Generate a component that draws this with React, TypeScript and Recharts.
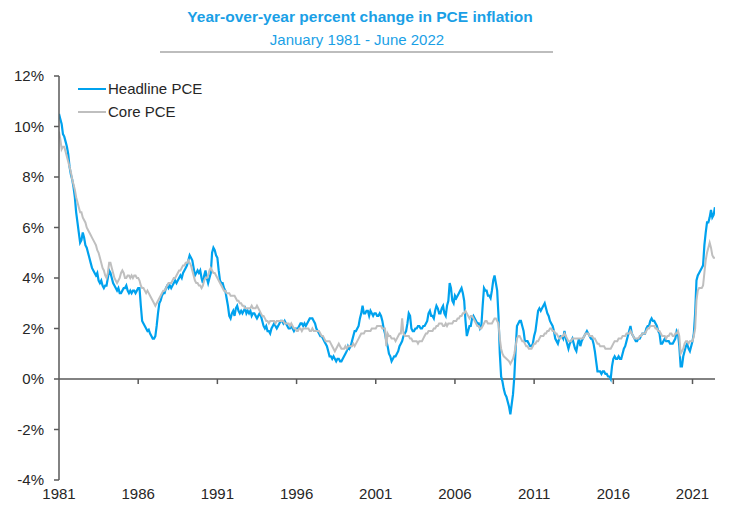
import { LineChart, Line, XAxis, YAxis, ReferenceLine, Legend } from "recharts"

// ── Data: monthly year-over-year % change, Jan 1981 – Jun 2022 ───────────────
const START_YEAR = 1981

const headline = [
  10.5, 10.3, 10.1, 9.7, 9.6, 9.4, 9.2, 8.9, 8.4, 8.1, 7.9, 7.6, // 1981
  7.2, 6.6, 6.2, 5.8, 5.4, 5.5, 5.8, 5.6, 5.3, 5.2, 5.0, 4.8, // 1982
  4.6, 4.4, 4.3, 4.2, 4.1, 4.2, 3.9, 3.8, 3.9, 3.7, 3.6, 3.7, // 1983
  3.7, 4.0, 4.3, 4.2, 4.0, 3.8, 3.7, 3.6, 3.5, 3.6, 3.4, 3.4, // 1984
  3.5, 3.6, 3.6, 3.7, 3.5, 3.4, 3.5, 3.4, 3.5, 3.5, 3.4, 3.5, // 1985
  3.6, 3.6, 2.9, 2.3, 2.2, 2.1, 2.0, 1.9, 1.95, 1.8, 1.7, 1.6, // 1986
  1.6, 1.7, 2.1, 2.6, 3.0, 3.1, 3.3, 3.4, 3.4, 3.6, 3.7, 3.6, // 1987
  3.7, 3.6, 3.7, 3.8, 3.9, 3.8, 3.9, 4.0, 4.1, 4.0, 4.2, 4.3, // 1988
  4.4, 4.5, 4.7, 4.9, 4.8, 4.7, 4.4, 4.1, 4.2, 4.3, 4.2, 4.3, // 1989
  4.0, 3.8, 4.1, 4.3, 4.0, 3.8, 4.0, 4.2, 5.0, 5.2, 5.1, 4.9, // 1990
  4.8, 4.3, 3.9, 3.8, 3.8, 3.6, 3.5, 3.2, 2.9, 2.5, 2.4, 2.6, // 1991
  2.7, 2.5, 2.8, 2.9, 2.7, 2.6, 2.7, 2.6, 2.7, 2.8, 2.6, 2.7, // 1992
  2.6, 2.7, 2.5, 2.6, 2.6, 2.5, 2.4, 2.5, 2.6, 2.5, 2.3, 2.1, // 1993
  2.0, 2.1, 1.9, 1.9, 1.8, 2.0, 2.1, 2.2, 2.1, 2.0, 2.1, 2.2, // 1994
  2.3, 2.3, 2.2, 2.3, 2.2, 2.1, 2.0, 2.0, 2.1, 2.0, 1.9, 2.0, // 1995
  2.0, 2.0, 2.1, 2.2, 2.2, 2.1, 2.2, 2.1, 2.2, 2.3, 2.4, 2.4, // 1996
  2.4, 2.3, 2.2, 2.0, 1.9, 1.8, 1.7, 1.7, 1.6, 1.5, 1.4, 1.3, // 1997
  1.1, 0.9, 0.9, 0.8, 0.9, 0.8, 0.7, 0.8, 0.8, 0.7, 0.7, 0.8, // 1998
  0.9, 1.0, 1.1, 1.3, 1.2, 1.3, 1.5, 1.7, 1.9, 1.9, 2.0, 2.1, // 1999
  2.4, 2.6, 2.9, 2.6, 2.6, 2.7, 2.7, 2.5, 2.7, 2.6, 2.5, 2.6, // 2000
  2.6, 2.5, 2.5, 2.6, 2.5, 2.3, 2.0, 1.8, 1.5, 1.3, 1.0, 0.9, // 2001
  0.7, 0.8, 0.9, 0.9, 1.0, 1.1, 1.3, 1.4, 1.5, 1.7, 1.8, 1.9, // 2002
  2.2, 2.6, 2.5, 2.0, 1.9, 1.9, 2.0, 2.0, 2.1, 2.1, 2.0, 2.0, // 2003
  2.1, 2.1, 2.2, 2.3, 2.6, 2.7, 2.5, 2.5, 2.4, 2.7, 2.9, 2.8, // 2004
  2.6, 2.6, 2.8, 2.9, 2.6, 2.5, 2.9, 3.1, 3.8, 3.6, 3.1, 3.0, // 2005
  3.3, 3.2, 3.3, 3.4, 3.5, 3.6, 3.4, 3.1, 2.3, 1.7, 1.9, 2.1, // 2006
  2.1, 2.4, 2.5, 2.4, 2.3, 2.2, 2.2, 2.0, 2.1, 2.9, 3.6, 3.5, // 2007
  3.5, 3.3, 3.3, 3.2, 3.5, 3.9, 4.1, 3.8, 3.5, 2.5, 1.0, 0.1, // 2008
  -0.1, -0.4, -0.6, -0.7, -0.9, -1.1, -1.4, -1.0, -0.6, 0.1, 1.2, 2.1, // 2009
  2.2, 2.3, 2.3, 2.1, 1.9, 1.5, 1.5, 1.5, 1.4, 1.3, 1.3, 1.4, // 2010
  1.7, 1.9, 2.3, 2.7, 2.8, 2.7, 2.8, 2.9, 3.0, 2.8, 2.6, 2.5, // 2011
  2.3, 2.2, 2.1, 1.9, 1.6, 1.5, 1.4, 1.6, 1.7, 1.7, 1.6, 1.9, // 2012
  1.6, 1.4, 1.2, 1.4, 1.5, 1.6, 1.4, 1.2, 1.1, 1.4, 1.6, 1.3, // 2013
  1.5, 1.6, 1.7, 1.8, 1.9, 1.8, 1.7, 1.6, 1.6, 1.4, 1.1, 0.7, // 2014
  0.3, 0.3, 0.3, 0.2, 0.3, 0.3, 0.2, 0.2, 0.1, 0.1, 0.0, 0.5, // 2015
  0.8, 0.9, 0.8, 0.8, 0.9, 0.8, 0.8, 1.0, 1.2, 1.3, 1.5, 1.7, // 2016
  1.9, 2.1, 1.8, 1.7, 1.6, 1.5, 1.5, 1.6, 1.6, 1.7, 1.8, 1.8, // 2017
  1.8, 2.0, 2.1, 2.1, 2.3, 2.4, 2.3, 2.3, 2.2, 2.1, 1.9, 1.8, // 2018
  1.4, 1.4, 1.5, 1.6, 1.5, 1.5, 1.5, 1.4, 1.4, 1.4, 1.5, 1.6, // 2019
  1.9, 1.8, 1.3, 0.5, 0.5, 0.9, 1.1, 1.3, 1.4, 1.2, 1.1, 1.3, // 2020
  1.5, 1.8, 2.6, 3.9, 4.1, 4.2, 4.3, 4.4, 4.5, 5.3, 5.8, 6.2, // 2021
  6.2, 6.4, 6.7, 6.4, 6.5, 6.8, // 2022
]

const core = [
  9.8, 9.5, 9.1, 9.2, 9.2, 9.0, 8.8, 8.6, 8.4, 8.2, 7.9, 7.7, // 1981
  7.5, 7.2, 7.0, 6.8, 6.6, 6.6, 6.4, 6.3, 6.2, 6.0, 5.9, 5.8, // 1982
  5.7, 5.6, 5.5, 5.4, 5.3, 5.1, 5.0, 4.8, 4.6, 4.4, 4.3, 4.1, // 1983
  4.0, 4.2, 4.6, 4.6, 4.4, 4.2, 4.0, 3.9, 3.8, 3.9, 4.0, 4.2, // 1984
  4.3, 4.2, 4.0, 4.0, 4.1, 4.1, 4.0, 4.1, 4.0, 4.1, 4.1, 4.0, // 1985
  4.0, 3.9, 3.7, 3.6, 3.6, 3.5, 3.4, 3.5, 3.4, 3.3, 3.2, 3.1, // 1986
  3.0, 2.9, 3.0, 3.1, 3.2, 3.3, 3.4, 3.5, 3.5, 3.6, 3.7, 3.8, // 1987
  3.8, 3.8, 3.9, 4.0, 4.0, 4.1, 4.2, 4.3, 4.3, 4.4, 4.5, 4.5, // 1988
  4.6, 4.6, 4.7, 4.6, 4.5, 4.3, 4.1, 3.9, 3.8, 3.8, 3.7, 3.7, // 1989
  3.6, 3.7, 3.9, 4.0, 4.0, 4.1, 4.3, 4.4, 4.3, 4.2, 4.2, 4.1, // 1990
  4.0, 3.9, 3.8, 3.7, 3.6, 3.5, 3.5, 3.4, 3.4, 3.4, 3.3, 3.3, // 1991
  3.3, 3.3, 3.2, 3.1, 3.1, 3.0, 3.0, 2.9, 2.9, 2.8, 2.8, 2.8, // 1992
  2.8, 2.8, 2.9, 2.8, 2.8, 2.8, 2.9, 2.8, 2.7, 2.6, 2.5, 2.5, // 1993
  2.4, 2.3, 2.3, 2.2, 2.3, 2.3, 2.3, 2.3, 2.2, 2.3, 2.3, 2.3, // 1994
  2.3, 2.3, 2.3, 2.2, 2.2, 2.2, 2.2, 2.1, 2.2, 2.1, 2.0, 2.0, // 1995
  1.9, 1.9, 2.0, 2.0, 1.9, 2.0, 2.0, 2.0, 2.0, 2.0, 1.9, 1.9, // 1996
  2.0, 1.9, 1.9, 1.9, 1.9, 1.9, 1.8, 1.7, 1.7, 1.6, 1.5, 1.5, // 1997
  1.5, 1.5, 1.4, 1.3, 1.2, 1.1, 1.2, 1.3, 1.4, 1.3, 1.2, 1.2, // 1998
  1.2, 1.3, 1.2, 1.3, 1.3, 1.3, 1.3, 1.4, 1.3, 1.4, 1.5, 1.6, // 1999
  1.7, 1.8, 1.8, 1.8, 1.9, 1.9, 1.9, 1.9, 1.9, 2.0, 2.0, 2.0, // 2000
  2.0, 2.1, 2.1, 2.1, 2.1, 2.0, 2.0, 2.0, 1.3, 1.8, 1.7, 1.7, // 2001
  1.6, 1.6, 1.6, 1.5, 1.6, 1.7, 1.8, 1.8, 2.4, 1.8, 1.7, 1.7, // 2002
  1.7, 1.7, 1.6, 1.6, 1.5, 1.5, 1.5, 1.5, 1.4, 1.5, 1.5, 1.5, // 2003
  1.6, 1.7, 1.8, 1.8, 1.9, 1.9, 1.9, 1.9, 2.0, 2.0, 2.1, 2.1, // 2004
  2.2, 2.2, 2.2, 2.1, 2.1, 2.2, 2.1, 2.2, 2.2, 2.2, 2.2, 2.3, // 2005
  2.3, 2.3, 2.4, 2.4, 2.5, 2.5, 2.6, 2.6, 2.7, 2.6, 2.5, 2.4, // 2006
  2.5, 2.5, 2.4, 2.3, 2.2, 2.1, 2.1, 2.0, 2.0, 2.1, 2.2, 2.3, // 2007
  2.3, 2.2, 2.2, 2.2, 2.2, 2.3, 2.4, 2.4, 2.3, 2.2, 1.6, 1.2, // 2008
  1.0, 0.9, 0.85, 0.8, 0.75, 0.7, 0.6, 0.7, 0.8, 1.0, 1.3, 1.6, // 2009
  1.7, 1.7, 1.6, 1.5, 1.5, 1.4, 1.3, 1.3, 1.2, 1.2, 1.2, 1.3, // 2010
  1.4, 1.4, 1.5, 1.5, 1.6, 1.7, 1.7, 1.7, 1.8, 1.8, 1.9, 1.9, // 2011
  2.0, 2.0, 1.9, 1.9, 1.8, 1.8, 1.7, 1.6, 1.6, 1.7, 1.7, 1.8, // 2012
  1.7, 1.6, 1.5, 1.5, 1.5, 1.6, 1.6, 1.6, 1.6, 1.6, 1.6, 1.6, // 2013
  1.6, 1.6, 1.7, 1.8, 1.8, 1.8, 1.7, 1.7, 1.7, 1.6, 1.6, 1.5, // 2014
  1.4, 1.4, 1.3, 1.3, 1.3, 1.3, 1.2, 1.2, 1.2, 1.2, 1.2, 1.3, // 2015
  1.4, 1.5, 1.5, 1.5, 1.6, 1.6, 1.6, 1.7, 1.7, 1.7, 1.8, 1.8, // 2016
  1.8, 1.9, 1.8, 1.7, 1.6, 1.6, 1.6, 1.6, 1.7, 1.7, 1.8, 1.8, // 2017
  1.8, 1.9, 2.0, 2.0, 2.1, 2.1, 2.1, 2.1, 2.0, 2.0, 1.9, 1.9, // 2018
  1.8, 1.7, 1.7, 1.7, 1.6, 1.7, 1.7, 1.8, 1.8, 1.7, 1.7, 1.8, // 2019
  1.8, 1.9, 1.7, 1.0, 1.1, 1.2, 1.4, 1.5, 1.5, 1.4, 1.5, 1.5, // 2020
  1.5, 1.7, 2.0, 3.1, 3.5, 3.6, 3.6, 3.6, 3.7, 4.2, 4.7, 5.0, // 2021
  5.2, 5.4, 5.2, 4.9, 4.8, 4.8, // 2022
]

const seriesNames = ["Headline PCE", "Core PCE"]
const xTicks = [1981, 1986, 1991, 1996, 2001, 2006, 2011, 2016, 2021]
const yTicks = [-4, -2, 0, 2, 4, 6, 8, 10, 12]

// ── Styling ──────────────────────────────────────────────────────────────────
const BLUE = "#00a2ee"
const GRAY = "#bfbfbf"
const AXIS = "#595959"
const TEXT = "#262626"
const FONT = "'Liberation Sans', Arial, sans-serif"

const data = headline.map((h, i) => ({
  t: START_YEAR + i / 12,
  headline: h,
  core: core[i],
}))

function XTick({ x, y, payload }: { x: number; y: number; payload: { value: number } }) {
  return (
    <text x={x} y={y} dy={11} textAnchor="middle" fontSize={15} fill={TEXT} fontFamily={FONT}>
      {payload.value}
    </text>
  )
}

// keep legend rows in series order (recharts sorts them by name otherwise)
function LegendContent({ payload }: { payload?: { value: string; color: string }[] }) {
  const items = [...(payload ?? [])].sort(
    (a, b) => seriesNames.indexOf(a.value) - seriesNames.indexOf(b.value)
  )
  return (
    <div style={{ fontFamily: FONT, fontSize: 15, color: TEXT }}>
      {items.map((item) => (
        <div key={item.value} style={{ display: "flex", alignItems: "center", height: 23 }}>
          <span style={{ width: 28, height: 2, background: item.color, marginRight: 2 }} />
          <span>{item.value}</span>
        </div>
      ))}
    </div>
  )
}

export default function App() {
  return (
    <div
      style={{
        position: "absolute",
        left: 0,
        top: 0,
        width: 753,
        height: 524,
        background: "#fff",
        fontFamily: FONT,
      }}
    >
      <div
        style={{
          position: "absolute",
          left: 0,
          width: 720,
          top: 8,
          textAlign: "center",
          fontSize: 15.5,
          fontWeight: "bold",
          color: "#1a9fe6",
          lineHeight: "18px",
        }}
      >
        Year-over-year percent change in PCE inflation
      </div>
      <div
        style={{
          position: "absolute",
          left: 0,
          width: 714,
          top: 31,
          textAlign: "center",
          fontSize: 15,
          color: "#1a9fe6",
          lineHeight: "18px",
        }}
      >
        January 1981 - June 2022
      </div>
      <div
        style={{ position: "absolute", left: 160, width: 393, top: 51, height: 2, background: "#bdbdbd" }}
      />
      <LineChart
        width={753}
        height={524}
        data={data}
        margin={{ top: 76, right: 38, left: 0, bottom: 14 }}
      >
        <XAxis
          dataKey="t"
          type="number"
          domain={[1981, 2022.42]}
          ticks={xTicks}
          allowDataOverflow
          axisLine={false}
          tickLine={false}
          height={30}
          tick={XTick}
        />
        <YAxis
          type="number"
          domain={[-4, 12]}
          ticks={yTicks}
          width={59}
          tickFormatter={(v) => `${v}%`}
          axisLine={{ stroke: AXIS, strokeWidth: 1.5 }}
          tickLine={{ stroke: AXIS, strokeWidth: 1.5 }}
          tickSize={5}
          tickMargin={10}
          tick={{ fontSize: 15, fill: TEXT, fontFamily: FONT }}
        />
        <ReferenceLine y={0} stroke={AXIS} strokeWidth={1.5} />
        {xTicks.slice(1).map((t) => (
          <ReferenceLine
            key={t}
            segment={[
              { x: t, y: 0 },
              { x: t, y: -0.2 },
            ]}
            stroke={AXIS}
            strokeWidth={1.5}
          />
        ))}
        <Legend
          layout="horizontal"
          verticalAlign="middle"
          align="center"
          wrapperStyle={{ left: 78, top: 77, width: "auto" }}
          content={LegendContent}
        />
        <Line
          type="linear"
          dataKey="headline"
          name={seriesNames[0]}
          stroke={BLUE}
          strokeWidth={2.2}
          dot={false}
          isAnimationActive={false}
        />
        <Line
          type="linear"
          dataKey="core"
          name={seriesNames[1]}
          stroke={GRAY}
          strokeWidth={2}
          dot={false}
          isAnimationActive={false}
        />
      </LineChart>
    </div>
  )
}
